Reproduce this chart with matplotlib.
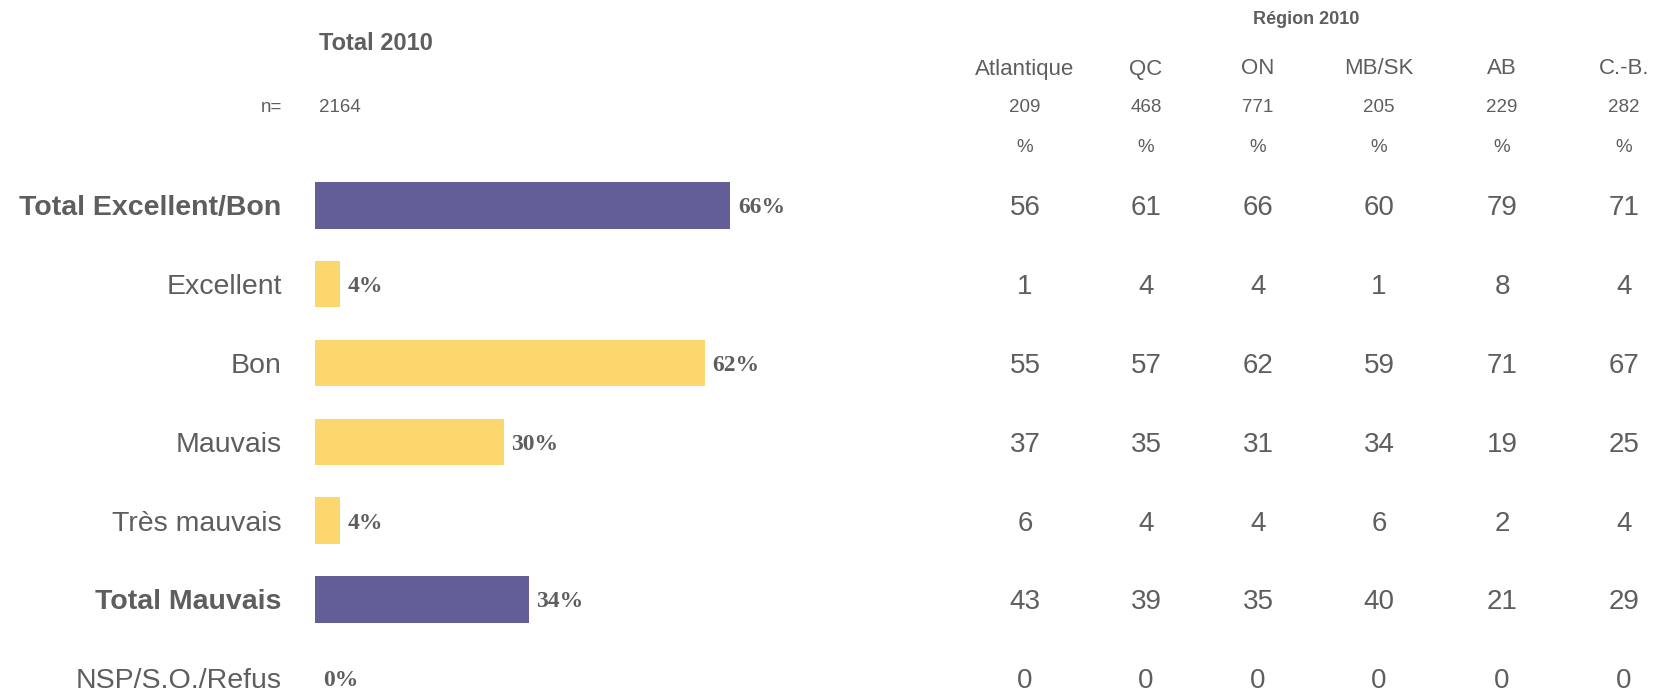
import matplotlib.pyplot as plt
from matplotlib.transforms import blended_transform_factory

# data
categories = ['Total Excellent/Bon', 'Excellent', 'Bon', 'Mauvais',
              'Très mauvais', 'Total Mauvais', 'NSP/S.O./Refus']
total_2010 = [66, 4, 62, 30, 4, 34, 0]
total_n = 2164
regions = ['Atlantique', 'QC', 'ON', 'MB/SK', 'AB', 'C.-B.']
region_n = [209, 468, 771, 205, 229, 282]
atlantique = [56, 1, 55, 37, 6, 43, 0]
qc = [61, 4, 57, 35, 4, 39, 0]
on = [66, 4, 62, 31, 4, 35, 0]
mb_sk = [60, 1, 59, 34, 6, 40, 0]
ab = [79, 8, 71, 19, 2, 21, 0]
cb = [71, 4, 67, 25, 4, 29, 0]
region_values = [atlantique, qc, on, mb_sk, ab, cb]
bold_rows = [0, 5]

W, H = 1662, 691
PURPLE = '#635F96'
YELLOW = '#FCD76E'
GREY = '#5E5E5E'

plt.rcParams['font.family'] = ['Liberation Sans', 'DejaVu Sans']

fig = plt.figure(figsize=(W / 100, H / 100), dpi=100)

# bar axes placed in pixel units
row_h = 78.8
top_px = 166
ax = fig.add_axes([315 / W, 0, 629 / W, (H - top_px) / H])
ax.set_xlim(0, 100)
ax.set_ylim(-0.5 + (H - top_px) / row_h, -0.5)

colors = [PURPLE if i in bold_rows else YELLOW for i in range(len(categories))]
bars = ax.barh(range(len(categories)), total_2010, height=0.59, color=colors)
for b, v in zip(bars, total_2010):
    ax.annotate(f'{v}%', (b.get_width(), b.get_y() + b.get_height() / 2),
                xytext=(5.5, 0), textcoords='offset points', va='center_baseline', ha='left',
                fontsize=17, fontweight='bold', color=GREY,
                family=['Liberation Serif', 'DejaVu Serif'])

ax.set_yticks(range(len(categories)))
ax.set_yticklabels(categories, fontsize=20.5, color=GREY, va='center_baseline')
for i, lab in enumerate(ax.get_yticklabels()):
    if i in bold_rows:
        lab.set_fontweight('bold')
ax.tick_params(axis='y', length=0, pad=24)
ax.set_xticks([])
for s in ax.spines.values():
    s.set_visible(False)

# headers
def fy(px):
    return 1 - px / H

fig.text(319 / W, fy(44), 'Total 2010', fontsize=17, fontweight='bold', color=GREY,
         ha='left', va='center')
fig.text(282 / W, fy(107), 'n=', fontsize=13.5, color=GREY, ha='right', va='center')
fig.text(319 / W, fy(107), str(total_n), fontsize=13.5, color=GREY, ha='left', va='center')
fig.text(1306 / W, fy(20), 'Région 2010', fontsize=13, fontweight='bold', color=GREY,
         ha='center', va='center')

col_x = [1025, 1146, 1258, 1379, 1502, 1624]
trans = blended_transform_factory(fig.transFigure, ax.transData)
for x, name, n, vals in zip(col_x, regions, region_n, region_values):
    fig.text(x / W, fy(69), name, fontsize=16, color=GREY, ha='center', va='center')
    fig.text(x / W, fy(107), str(n), fontsize=13.5, color=GREY, ha='center', va='center')
    fig.text(x / W, fy(147), '%', fontsize=13.5, color=GREY, ha='center', va='center')
    for i, v in enumerate(vals):
        ax.text(x / W, i, str(v), transform=trans, fontsize=20, color=GREY,
                ha='center', va='center_baseline', clip_on=False)

fig.savefig('out.png', dpi=100)
